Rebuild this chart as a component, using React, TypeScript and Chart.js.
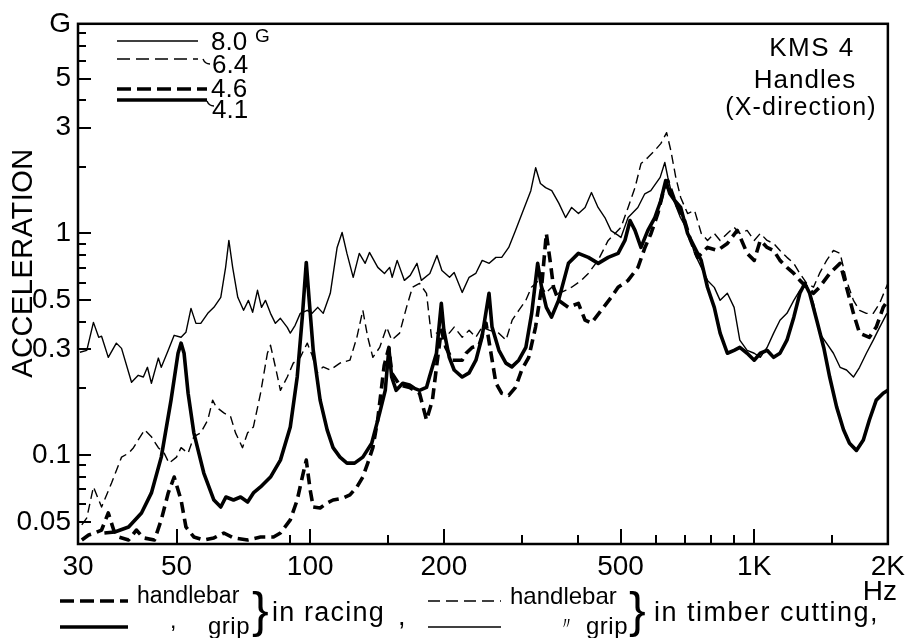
import React, { useEffect, useRef } from "react";
import { Chart, registerables } from "chart.js";

Chart.register(...registerables);

// ---- data (Hz, G) ----
// thin solid: grip in timber cutting
const gripTimberFreq = [30.3,31.4,32.5,33.4,33.9,35.1,36.6,37.6,39.6,41.0,42.1,43.0,43.9,45.5,46.2,47.9,49.4,51.2,52.5,53.9,55.3,56.7,58.8,60.7,62.9,64.5,65.6,66.9,68.7,70.8,72.6,74.2,76.1,77.7,79.3,81.4,83.5,85.7,88.8,90.2,92.5,95.0,98.5,101,104,107,111,115,118,121,125,129,133,136,142,147,151,153,157,163,168,174,178,186,193,198,206,211,220,228,236,244,253,262,270,280,290,300,314,322,330,339,350,363,376,388,402,416,430,445,461,476,494,501,520,547,567,585,614,629,639,655,682,708,734,760,785,813,838,870,901,928,964,1000,1032,1069,1106,1143,1185,1228,1267,1313,1360,1403,1456,1508,1561,1614,1673,1727,1789,1854,1916,1990];
const gripTimberAcc = [0.291,0.297,0.397,0.340,0.344,0.276,0.320,0.303,0.213,0.229,0.225,0.249,0.211,0.274,0.249,0.297,0.347,0.340,0.358,0.459,0.393,0.393,0.436,0.464,0.515,0.703,0.930,0.703,0.515,0.450,0.499,0.441,0.554,0.464,0.499,0.436,0.393,0.414,0.377,0.355,0.385,0.436,0.450,0.436,0.464,0.436,0.537,0.865,1.01,0.813,0.634,0.813,0.733,0.821,0.703,0.660,0.703,0.634,0.756,0.614,0.647,0.733,0.614,0.660,0.796,0.681,0.634,0.667,0.542,0.634,0.660,0.756,0.733,0.780,0.780,0.865,1.03,1.23,1.56,1.98,1.68,1.61,1.56,1.37,1.18,1.31,1.23,1.31,1.53,1.31,1.18,1.03,0.98,0.959,1.18,1.31,1.51,1.56,1.79,2.09,1.79,1.45,1.18,1.03,0.813,0.703,0.614,0.571,0.499,0.537,0.464,0.330,0.297,0.288,0.276,0.306,0.355,0.406,0.436,0.499,0.554,0.583,0.484,0.355,0.319,0.288,0.249,0.242,0.225,0.249,0.288,0.330,0.377,0.436];

// thin dashed: handlebar in timber cutting
const barTimberFreq = [30.6,31.4,32.5,33.9,35.7,37.6,39.0,40.0,41.0,42.4,43.9,45.5,46.9,48.1,50.0,51.2,53.1,54.7,56.7,58.8,60.3,61.4,63.9,66.2,67.9,70.4,72.3,74.5,77.3,80.1,81.4,83.5,85.7,88.8,91.6,95.0,98.5,101,103.7,106.9,110.9,116.7,122.9,127.4,131.4,134.8,138.4,143.4,148.7,152.6,159,164.8,170,176.3,182.8,187.6,192.5,200,205.7,211,220,228,236,244,253,266,276,285,295,306,315,327,339,350,363,376,388,408,423,445,469,486,501,520,539,556,576,597,616,635,649,666,683,708,734,760,785,813,838,870,901,928,964,1000,1032,1069,1106,1143,1185,1228,1267,1313,1360,1403,1456,1508,1561,1614,1673,1727,1789,1854,1916,2000];
const barTimberAcc = [0.0484,0.0521,0.0718,0.0583,0.0748,0.0979,0.102,0.108,0.117,0.130,0.121,0.108,0.102,0.0920,0.0979,0.108,0.102,0.121,0.126,0.144,0.177,0.165,0.155,0.149,0.126,0.108,0.126,0.134,0.190,0.288,0.313,0.250,0.196,0.225,0.260,0.276,0.320,0.282,0.235,0.250,0.242,0.260,0.268,0.340,0.450,0.340,0.276,0.306,0.378,0.330,0.355,0.464,0.572,0.595,0.537,0.340,0.355,0.366,0.355,0.378,0.340,0.366,0.340,0.378,0.366,0.355,0.330,0.406,0.450,0.499,0.572,0.614,0.537,0.572,0.537,0.554,0.572,0.614,0.660,0.756,0.930,1.00,1.065,1.309,1.611,2.067,2.199,2.365,2.543,2.851,2.365,1.788,1.453,1.230,1.269,1.00,0.930,1.00,0.930,1.00,1.065,1.00,1.032,0.930,1.00,0.930,0.901,0.838,0.780,0.733,0.660,0.595,0.572,0.660,0.756,0.838,0.813,0.614,0.499,0.450,0.436,0.436,0.484,0.595];

// thick dashed: handlebar in racing
const barRacingFreq = [30.6,31.7,32.7,33.9,35.1,36.1,37.0,39.0,40.6,42.1,44.6,46.2,47.9,49.4,51.2,52.5,54.7,57.6,60.7,63.9,67.2,72.3,77.3,82.7,85.7,90.2,93.5,96.0,98.0,100,101.6,105.3,109.2,112.6,118.6,122.9,127.4,131.4,134.8,138.4,141.9,146.8,150.4,152.6,159,167.4,176.3,182.8,188.5,193.4,197.4,202.1,209,220,224.5,231.6,240.1,248.9,255.4,262,270,280,290,299.5,310.6,321.8,332,340.3,347.7,353.2,362.5,381.6,401.8,416.1,429.7,452.4,476.3,493.7,519.8,547.3,567.6,585.7,606.7,622.5,638.7,662,697,719,745.4,784.8,826.3,869.9,915.9,964.3,1000,1032,1069,1106,1143,1185,1228,1267,1313,1360,1403,1479,1561,1614,1673,1727,1817,1883,1952,2000];
const barRacingAcc = [0.0414,0.0436,0.0445,0.0459,0.0548,0.0459,0.0427,0.0414,0.0459,0.0423,0.0414,0.0510,0.0675,0.0796,0.0627,0.0474,0.0427,0.0414,0.0423,0.0445,0.0423,0.0414,0.0427,0.0427,0.0445,0.0510,0.0627,0.0796,0.0949,0.0696,0.0583,0.0577,0.0608,0.0627,0.0640,0.0661,0.0718,0.0796,0.0920,0.108,0.144,0.254,0.306,0.235,0.207,0.202,0.190,0.144,0.177,0.268,0.366,0.306,0.268,0.268,0.288,0.306,0.313,0.394,0.288,0.211,0.190,0.186,0.202,0.242,0.276,0.378,0.572,1.00,0.733,0.572,0.499,0.464,0.484,0.406,0.394,0.450,0.515,0.572,0.614,0.703,0.865,1.00,1.230,1.514,1.733,1.408,1.144,0.930,0.780,0.865,0.838,0.901,1.032,0.813,0.756,0.930,0.865,0.838,0.756,0.703,0.660,0.614,0.572,0.537,0.572,0.660,0.733,0.572,0.436,0.355,0.340,0.378,0.464,0.499];

// thick solid: grip in racing
const gripRacingFreq = [34.4,36.3,39.0,41.7,43.9,46.2,48.6,50.4,51.2,52.0,53.1,54.7,57.6,60.7,62.9,64.6,67.2,69.7,72.3,74.5,77.3,81.4,85.7,90.2,93.5,96.0,98.0,99.5,101.6,105.3,109.2,112.6,116.7,121,125.9,131.4,137.6,143.4,147.6,150.4,152.6,156.2,161.6,167.4,171.7,176.3,182.8,185.6,192.5,197.4,200,205.7,211,220,228,236.2,243.7,252.8,256.8,266.1,275.9,284.6,295,306,315.4,325.3,332,340.3,349.6,362.5,381.6,401.8,423.1,445.4,469,493.7,511.5,525.2,538.9,555.8,576.2,597.4,616.2,632.1,645.3,662,683,708,734,759.5,784.8,813,838,870,901,928,964,1000,1032,1069,1106,1143,1185,1228,1267,1300,1333,1383,1434,1479,1533,1589,1639,1699,1761,1817,1883,1952,2000];
const gripRacingAcc = [0.0445,0.0450,0.0474,0.0548,0.0675,0.0979,0.177,0.288,0.320,0.288,0.190,0.126,0.0830,0.0627,0.0583,0.0647,0.0627,0.0647,0.0614,0.0675,0.0718,0.0796,0.0949,0.134,0.225,0.419,0.740,0.499,0.297,0.177,0.130,0.108,0.0979,0.0920,0.0920,0.0979,0.113,0.155,0.196,0.303,0.225,0.196,0.211,0.207,0.200,0.196,0.202,0.225,0.288,0.484,0.366,0.276,0.242,0.225,0.235,0.268,0.340,0.537,0.378,0.297,0.260,0.250,0.268,0.306,0.436,0.733,0.572,0.464,0.419,0.499,0.733,0.813,0.780,0.733,0.780,0.813,0.930,1.144,1.032,0.865,1.032,1.180,1.408,1.733,1.514,1.408,1.309,1.00,0.865,0.756,0.572,0.464,0.355,0.288,0.297,0.306,0.288,0.268,0.288,0.297,0.276,0.288,0.330,0.419,0.537,0.595,0.537,0.406,0.306,0.225,0.165,0.130,0.113,0.105,0.117,0.144,0.177,0.190,0.196];

// ---- axes ----
const xMin = 30, xMax = 2000;
const yMin = 0.0397, yMax = 8.83;
const xTickValues = [30, 50, 100, 200, 500, 1000, 2000];
const xTickLabels = ["30", "50", "100", "200", "500", "1K", "2K"];
const xMajorMarks = [50, 100, 200, 500, 1000];
const xMinorMarks = [90, 150, 300, 400, 600, 700, 800, 900, 1500];
const yTickValues = [0.05, 0.1, 0.3, 0.5, 1, 3, 5, 8.83];
const yTickLabels = ["0.05", "0.1", "0.3", "0.5", "1", "3", "5", "G"];
const yMajorMarks = [0.05, 0.1, 0.3, 0.5, 1, 3, 5];
const yMinorMarks = [0.06, 0.07, 0.08, 0.09, 0.2, 0.4, 0.6, 0.7, 0.8, 0.9, 2, 4, 6, 7, 8];
const overallLabels = ["8.0", "6.4", "4.6", "4.1"];

const FF = '"Liberation Sans", Arial, "DejaVu Sans", sans-serif';

const toPoints = (f: number[], a: number[]) => f.map((v, i) => ({ x: v, y: a[i] }));

const overlay = {
  id: "overlay",
  afterDraw(chart: any) {
    const { ctx, chartArea: a, scales } = chart;
    const xs = scales.x, ys = scales.y;
    ctx.save();
    ctx.strokeStyle = "#000";
    ctx.fillStyle = "#000";
    ctx.setLineDash([]);
    ctx.lineWidth = 2.5;
    ctx.strokeRect(a.left, a.top, a.right - a.left, a.bottom - a.top);
    ctx.lineWidth = 2;
    const tickX = (v: number, len: number) => {
      const p = Math.round(xs.getPixelForValue(v));
      ctx.beginPath(); ctx.moveTo(p, a.bottom); ctx.lineTo(p, a.bottom - len); ctx.stroke();
    };
    const tickY = (v: number, len: number) => {
      const p = Math.round(ys.getPixelForValue(v));
      ctx.beginPath(); ctx.moveTo(a.left, p); ctx.lineTo(a.left + len, p); ctx.stroke();
    };
    xMajorMarks.forEach((v) => tickX(v, 15));
    xMinorMarks.forEach((v) => tickX(v, 9));
    yMajorMarks.forEach((v) => tickY(v, 13));
    yMinorMarks.forEach((v) => tickY(v, 8));

    const text = (s: string, x: number, y: number, size: number, align: CanvasTextAlign = "left", spacing = 0) => {
      ctx.font = `${size}px ${FF}`;
      (ctx as any).letterSpacing = `${spacing}px`;
      ctx.textAlign = align;
      ctx.textBaseline = "middle";
      ctx.fillText(s, x, y);
      (ctx as any).letterSpacing = "0px";
    };
    const line = (x1: number, x2: number, y: number, w: number, dash: number[]) => {
      ctx.lineWidth = w;
      ctx.setLineDash(dash);
      ctx.beginPath(); ctx.moveTo(x1, y); ctx.lineTo(x2, y); ctx.stroke();
      ctx.setLineDash([]);
    };

    // top-left overall values legend
    line(117, 198, 41, 1.4, []);
    line(117, 198, 59, 1.4, [13, 6]);
    line(117, 207, 89, 3.6, [14, 6]);
    line(117, 207, 100, 3.6, []);
    text(overallLabels[0], 211, 43, 26);
    text("G", 255, 37, 19);
    text(overallLabels[1], 212, 66, 26);
    text(overallLabels[2], 211, 90, 26);
    text(overallLabels[3], 212, 111, 26);
    ctx.lineWidth = 1.4;
    ctx.beginPath(); ctx.moveTo(203, 59); ctx.quadraticCurveTo(205, 64, 210, 64); ctx.stroke();
    ctx.beginPath(); ctx.moveTo(207, 101); ctx.quadraticCurveTo(209, 106, 214, 106); ctx.stroke();

    // top-right title block
    text("KMS 4", 812, 49, 26, "center", 1.5);
    text("Handles", 805, 81, 26, "center", 1);
    text("(X-direction)", 801, 108, 25, "center", 1.2);

    // axis titles
    ctx.save();
    ctx.translate(24, 263);
    ctx.rotate(-Math.PI / 2);
    text("ACCELERATION", 0, 0, 29, "center", 0.5);
    ctx.restore();
    text("Hz", 897, 592, 28, "right");

    // bottom legend
    line(60, 128, 601, 3.6, [14, 6]);
    line(60, 128, 627, 3.6, []);
    text("handlebar", 137, 597, 23);
    text(",", 170, 622, 23);
    text("grip", 250, 627, 24, "right", 0.5);
    text("}", 252, 613, 50);
    text("in racing", 272, 614, 27, "left", 1.2);
    text(",", 398, 618, 27);
    line(428, 501, 601, 1.4, [12, 6]);
    line(428, 501, 627, 1.4, []);
    text("handlebar", 510, 597, 24);
    text("\u3003", 558, 624, 17);
    text("grip", 628, 627, 24, "right", 0.5);
    text("}", 629, 613, 50);
    text("in timber cutting,", 654, 614, 27, "left", 1.5);
    ctx.restore();
  },
};

export default function App() {
  const ref = useRef<HTMLCanvasElement>(null);
  useEffect(() => {
    const canvas = ref.current;
    if (!canvas) return;
    const chart = new Chart(canvas, {
      type: "line",
      data: {
        datasets: [
          { label: "grip, timber cutting", data: toPoints(gripTimberFreq, gripTimberAcc), borderColor: "#000", borderWidth: 1.4, pointRadius: 0, fill: false },
          { label: "handlebar, timber cutting", data: toPoints(barTimberFreq, barTimberAcc), borderColor: "#000", borderWidth: 1.4, borderDash: [9, 5], pointRadius: 0, fill: false },
          { label: "handlebar, racing", data: toPoints(barRacingFreq, barRacingAcc), borderColor: "#000", borderWidth: 3.6, borderDash: [11, 6], pointRadius: 0, fill: false },
          { label: "grip, racing", data: toPoints(gripRacingFreq, gripRacingAcc), borderColor: "#000", borderWidth: 3.6, pointRadius: 0, fill: false },
        ],
      },
      options: {
        animation: false,
        responsive: false,
        maintainAspectRatio: false,
        devicePixelRatio: 1,
        layout: { padding: { top: 23, right: 19, left: 0, bottom: 0 } },
        plugins: { legend: { display: false }, tooltip: { enabled: false }, title: { display: false } },
        elements: { line: { tension: 0, borderJoinStyle: "round" } },
        scales: {
          x: {
            type: "logarithmic",
            min: xMin,
            max: xMax,
            grid: { display: false, drawTicks: false },
            border: { display: false },
            afterBuildTicks: (s: any) => { s.ticks = xTickValues.map((v) => ({ value: v })); },
            afterFit: (s: any) => { s.height = 94; },
            ticks: {
              autoSkip: false,
              maxRotation: 0,
              padding: 6,
              color: "#000",
              font: { family: FF, size: 28 },
              callback: (_v: any, i: number) => xTickLabels[i],
            },
          },
          y: {
            type: "logarithmic",
            min: yMin,
            max: yMax,
            grid: { display: false, drawTicks: false },
            border: { display: false },
            afterBuildTicks: (s: any) => { s.ticks = yTickValues.map((v) => ({ value: v })); },
            afterFit: (s: any) => { s.width = 78; },
            ticks: {
              autoSkip: false,
              padding: 7,
              color: "#000",
              font: { family: FF, size: 28 },
              callback: (_v: any, i: number) => yTickLabels[i],
            },
          },
        },
      } as any,
      plugins: [overlay],
    });
    return () => chart.destroy();
  }, []);
  return (
    <div style={{ position: "fixed", left: 0, top: 0, width: 911, height: 638, background: "#fff" }}>
      <canvas ref={ref} width={911} height={638} style={{ display: "block", width: 911, height: 638 }} />
    </div>
  );
}
